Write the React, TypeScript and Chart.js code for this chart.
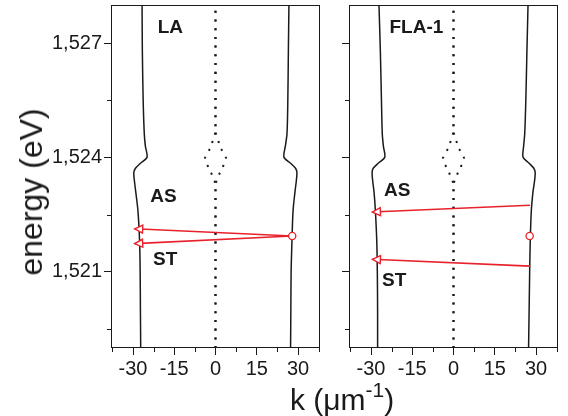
import React, { useEffect, useRef } from 'react';
import { Chart, registerables } from 'chart.js';

Chart.register(...registerables);

const FONT = '"Liberation Sans", Arial, Helvetica, sans-serif';
const INK = '#1a1a1a';
const RED = '#e8222c';

// ---- axes ----
const K_MIN = -38;
const K_MAX = 38;
const E_MIN = 1.519;
const E_MAX = 1.528;
const kMajorTicks = [-30, -15, 0, 15, 30];
const kTickLabels = ['-30', '-15', '0', '15', '30'];
const kMinorTicks = [-37.5, -22.5, -7.5, 7.5, 22.5, 37.5];
const eMajorTicks = [1.521, 1.524, 1.527];
const eTickLabels = ['1,521', '1,524', '1,527'];
const eMinorTicks = [1.5195, 1.5225, 1.5255];

// ---- LA panel ----
const laE = [1.519, 1.52, 1.521, 1.5218, 1.5226, 1.5231, 1.5234, 1.52361, 1.52372, 1.52385, 1.52401, 1.5243, 1.52463, 1.5255, 1.5268, 1.528];
const laKLeft = [-27.2, -27.3, -27.4, -27.6, -28.2, -29.0, -29.5, -29.7, -29.1, -27.3, -24.9, -25.5, -25.9, -26.3, -26.6, -26.7];
const laKRight = [27.3, 27.4, 27.5, 27.8, 28.2, 28.9, 29.4, 29.6, 29.1, 27.3, 24.9, 25.4, 26.0, 26.3, 26.5, 26.7];

// ---- FLA-1 panel ----
const flaE = [1.519, 1.52, 1.521, 1.5218, 1.5226, 1.5231, 1.5234, 1.52361, 1.52372, 1.52385, 1.52401, 1.5243, 1.52463, 1.5255, 1.5268, 1.528];
const flaKLeft = [-27.6, -27.6, -27.7, -27.9, -28.4, -28.9, -29.4, -29.6, -29.2, -27.4, -25.0, -25.5, -25.9, -26.2, -26.6, -27.1];
const flaKRight = [27.3, 27.5, 27.7, 27.9, 28.3, 28.9, 29.5, 29.7, 29.2, 27.5, 25.3, 25.5, 25.9, 26.3, 26.7, 27.1];

// ---- dotted central branch (both panels) ----
const dotE = [1.519, 1.52327, 1.52345, 1.52365, 1.52398, 1.52425, 1.52452, 1.5247, 1.528];
const dotKLeft = [0, 0, -0.7, -1.9, -3.8, -1.9, -0.7, 0, 0];
const dotKRight = [0, 0, 0.7, 1.9, 3.8, 1.9, 0.7, 0, 0];

// ---- transitions (start k, start E, end k, end E) ----
const laArrowStartK = [27.9, 27.9];
const laArrowStartE = [1.52194, 1.52194];
const laArrowEndK = [-29.4, -29.4];
const laArrowEndE = [1.52213, 1.52174];
const laCircle = { k: 27.9, e: 1.52194 };

const flaArrowStartK = [27.8, 27.8];
const flaArrowStartE = [1.52275, 1.52115];
const flaArrowEndK = [-29.5, -29.5];
const flaArrowEndE = [1.52257, 1.52133];
const flaCircle = { k: 27.7, e: 1.52194 };

// ---- panel labels ----
const laLabels = [
  { text: 'LA', k: -16.4, e: 1.52742 },
  { text: 'AS', k: -18.9, e: 1.52296 },
  { text: 'ST', k: -18.3, e: 1.52132 },
];
const flaLabels = [
  { text: 'FLA-1', k: -13.5, e: 1.5274 },
  { text: 'AS', k: -20.5, e: 1.52312 },
  { text: 'ST', k: -21.6, e: 1.52076 },
];

type Lbl = { text: string; k: number; e: number };

const zip = (ks: number[], es: number[]) => es.map((e, i) => ({ x: ks[i], y: e }));

function buildDatasets(
  kl: number[], kr: number[], es: number[],
  sk: number[], se: number[], ek: number[], ee: number[],
  circle: { k: number; e: number }
) {
  const ds: any[] = [];
  ds.push({
    data: [{ x: circle.k, y: circle.e }],
    showLine: false,
    pointRadius: 3.6,
    pointBackgroundColor: '#ffffff',
    pointBorderColor: RED,
    pointBorderWidth: 1.3,
  });
  for (let i = 0; i < sk.length; i++) {
    ds.push({
      data: [{ x: sk[i], y: se[i] }, { x: ek[i], y: ee[i] }],
      showLine: true,
      borderColor: RED,
      borderWidth: 1.6,
      pointRadius: 0,
      arrow: true,
    });
  }
  const curve = (ks: number[], e: number[]) => ({
    data: zip(ks, e),
    showLine: true,
    borderColor: INK,
    borderWidth: 1.5,
    pointRadius: 0,
    tension: 0.3,
  });
  ds.push(curve(kl, es));
  ds.push(curve(kr, es));
  const dotted = (ks: number[]) => ({
    data: zip(ks, dotE),
    showLine: true,
    borderColor: INK,
    borderWidth: 2,
    borderDash: [2, 6.7],
    pointRadius: 0,
    tension: 0.3,
  });
  ds.push(dotted(dotKLeft));
  ds.push(dotted(dotKRight));
  return ds;
}

function makePlugins(labels: Lbl[]) {
  return [
    {
      id: 'frameAndMinor',
      afterDraw(chart: any) {
        const { ctx, chartArea: a, scales } = chart;
        ctx.save();
        ctx.strokeStyle = INK;
        ctx.lineWidth = 1;
        const l = Math.round(a.left) + 0.5;
        const t = Math.round(a.top) + 0.5;
        const r = Math.round(a.right) - 0.5;
        const b = Math.round(a.bottom) - 0.5;
        ctx.strokeRect(l, t, r - l, b - t);
        ctx.beginPath();
        kMinorTicks.forEach((v) => {
          const x = Math.round(scales.x.getPixelForValue(v)) + 0.5;
          ctx.moveTo(x, b);
          ctx.lineTo(x, b + 4.5);
        });
        eMinorTicks.forEach((v) => {
          const y = Math.round(scales.y.getPixelForValue(v)) + 0.5;
          ctx.moveTo(l, y);
          ctx.lineTo(l - 4.5, y);
        });
        ctx.stroke();
        ctx.restore();
      },
    },
    {
      id: 'arrowsAndLabels',
      afterDatasetsDraw(chart: any) {
        const { ctx, scales } = chart;
        ctx.save();
        chart.data.datasets.forEach((d: any, i: number) => {
          if (!d.arrow) return;
          const pts = chart.getDatasetMeta(i).data;
          const p0 = pts[0];
          const p1 = pts[pts.length - 1];
          const dx = p1.x - p0.x;
          const dy = p1.y - p0.y;
          const len = Math.hypot(dx, dy);
          const ux = dx / len;
          const uy = dy / len;
          const L = 8;
          const W = 4;
          const bx = p1.x - ux * L;
          const by = p1.y - uy * L;
          ctx.beginPath();
          ctx.moveTo(p1.x, p1.y);
          ctx.lineTo(bx - uy * W, by + ux * W);
          ctx.lineTo(bx + uy * W, by - ux * W);
          ctx.closePath();
          ctx.fillStyle = '#ffffff';
          ctx.fill();
          ctx.strokeStyle = RED;
          ctx.lineWidth = 1.4;
          ctx.stroke();
        });
        ctx.fillStyle = INK;
        ctx.font = `bold 19px ${FONT}`;
        ctx.textAlign = 'center';
        ctx.textBaseline = 'middle';
        labels.forEach((lb) => {
          ctx.fillText(lb.text, scales.x.getPixelForValue(lb.k), scales.y.getPixelForValue(lb.e));
        });
        ctx.restore();
      },
    },
  ];
}

function makeOptions(showYLabels: boolean, yWidth: number): any {
  return {
    animation: false,
    responsive: false,
    events: [],
    layout: { padding: { left: 0, right: 10, top: 4, bottom: 0 } },
    plugins: { legend: { display: false }, tooltip: { enabled: false } },
    scales: {
      x: {
        type: 'linear',
        min: K_MIN,
        max: K_MAX,
        afterBuildTicks: (s: any) => {
          s.ticks = kMajorTicks.map((v) => ({ value: v }));
        },
        afterFit: (s: any) => {
          s.height = 68;
          s.paddingLeft = 0;
          s.paddingRight = 0;
        },
        grid: { drawOnChartArea: false, drawTicks: true, tickLength: 7, color: INK, lineWidth: 1 },
        border: { display: false },
        ticks: {
          color: INK,
          font: { size: 20, family: FONT },
          padding: 2,
          maxRotation: 0,
          autoSkip: false,
          callback: (v: number) => {
            const i = kMajorTicks.indexOf(v);
            return i >= 0 ? kTickLabels[i] : '';
          },
        },
      },
      y: {
        type: 'linear',
        min: E_MIN,
        max: E_MAX,
        afterBuildTicks: (s: any) => {
          s.ticks = eMajorTicks.map((v) => ({ value: v }));
        },
        afterFit: (s: any) => {
          s.width = yWidth;
          s.paddingTop = 0;
          s.paddingBottom = 0;
        },
        grid: { drawOnChartArea: false, drawTicks: true, tickLength: 7, color: INK, lineWidth: 1 },
        border: { display: false },
        ticks: {
          display: showYLabels,
          color: INK,
          font: { size: 20, family: FONT },
          padding: 2,
          autoSkip: false,
          callback: (v: number) => {
            const i = eMajorTicks.findIndex((t) => Math.abs(t - v) < 1e-7);
            return i >= 0 ? eTickLabels[i] : '';
          },
        },
      },
    },
  };
}

function PanelChart(props: {
  left: number; width: number; yWidth: number; showYLabels: boolean;
  datasets: any[]; labels: Lbl[];
}) {
  const ref = useRef<HTMLCanvasElement | null>(null);
  useEffect(() => {
    if (!ref.current) return;
    const chart = new Chart(ref.current, {
      type: 'scatter',
      data: { datasets: props.datasets },
      options: makeOptions(props.showYLabels, props.yWidth),
      plugins: makePlugins(props.labels),
    } as any);
    return () => chart.destroy();
  }, []);
  return (
    <canvas
      ref={ref}
      width={props.width}
      height={416}
      style={{ position: 'absolute', left: props.left, top: 0, width: props.width, height: 416 }}
    />
  );
}

export default function App() {
  const laDs = buildDatasets(laKLeft, laKRight, laE, laArrowStartK, laArrowStartE, laArrowEndK, laArrowEndE, laCircle);
  const flaDs = buildDatasets(flaKLeft, flaKRight, flaE, flaArrowStartK, flaArrowStartE, flaArrowEndK, flaArrowEndE, flaCircle);
  return (
    <div style={{ position: 'fixed', left: 0, top: 0, width: 568, height: 416, background: '#ffffff', overflow: 'hidden' }}>
      <PanelChart left={0} width={330} yWidth={111} showYLabels={true} datasets={laDs} labels={laLabels} />
      <PanelChart left={330} width={238} yWidth={19} showYLabels={false} datasets={flaDs} labels={flaLabels} />
      <div
        style={{
          position: 'absolute', left: 31, top: 192, transform: 'translate(-50%, -50%) rotate(-90deg)',
          whiteSpace: 'nowrap', fontFamily: FONT, fontSize: 32, lineHeight: 1, color: INK,
        }}
      >
        energy (eV)
      </div>
      <div
        style={{
          position: 'absolute', left: 290, top: 385, whiteSpace: 'nowrap',
          fontFamily: FONT, fontSize: 30, lineHeight: 1, color: INK,
        }}
      >
        k (μm<span style={{ fontSize: 21, position: 'relative', top: -13 }}>-1</span>)
      </div>
    </div>
  );
}
